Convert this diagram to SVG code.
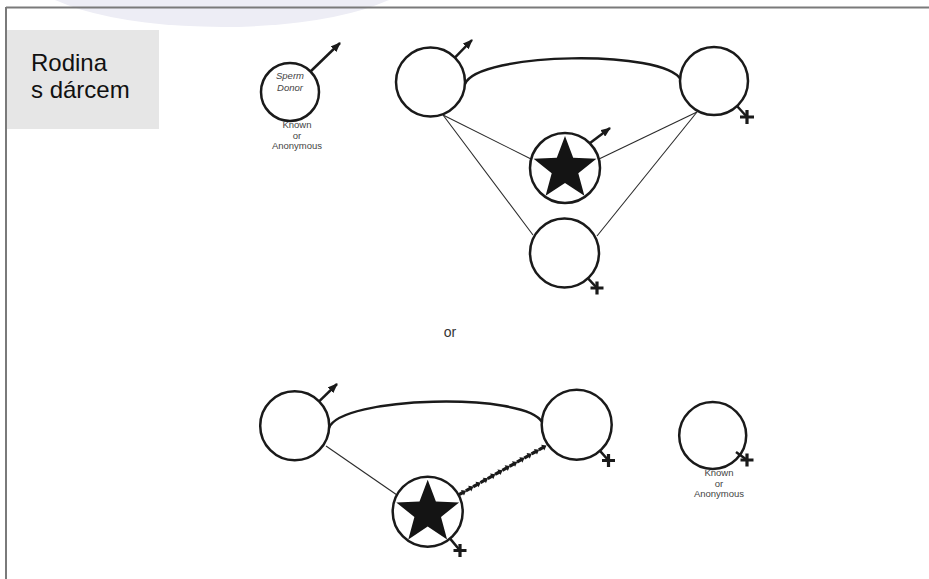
<svg xmlns="http://www.w3.org/2000/svg" width="929" height="579" viewBox="0 0 929 579">
<style>
.node{fill:#fff;stroke:#1a1a1a;stroke-width:2.5}
.sym{stroke:#1a1a1a;stroke-width:2.5;fill:none}
.cross{stroke:#1a1a1a;stroke-width:3.2;fill:none}
.thin{stroke:#2a2a2a;stroke-width:1.1;fill:none}
.arc{stroke:#1a1a1a;stroke-width:2.5;fill:none}
.star{fill:#141414}
.small{font-family:"Liberation Sans",Arial,sans-serif;font-size:9.5px;fill:#444;text-anchor:middle}
.title{font-family:"Liberation Sans",Arial,sans-serif;font-size:24px;fill:#111}
</style>
<defs>
<marker id="ah" viewBox="0 0 10 8" refX="9" refY="4" markerWidth="10" markerHeight="8" markerUnits="userSpaceOnUse" orient="auto">
<path d="M0,0 L10,4 L0,8 z" fill="#1a1a1a"/>
</marker>
<marker id="chev" viewBox="-5 -4 10 8" refX="0" refY="0" markerWidth="10" markerHeight="8" markerUnits="userSpaceOnUse" orient="auto">
<path d="M-4,-1.6 L0.5,-1.6 L0.5,-3.2 L4.8,0 L0.5,3.2 L0.5,1.6 L-4,1.6 z" fill="#1a1a1a"/>
</marker>
<path id="starShape" d="M0,-33 L8.2,-11.3 L31.4,-10.2 L13.3,4.3 L19.4,26.7 L0,13.9 L-19.4,26.7 L-13.3,4.3 L-31.4,-10.2 L-8.2,-11.3 z"/>
</defs>
<rect width="929" height="579" fill="#fff"/>
<ellipse cx="222" cy="-33" rx="200" ry="60" fill="#ededf5"/>
<g id="frame" stroke="#7a7a7a" stroke-width="2" fill="none">
<line x1="6" y1="7.5" x2="929" y2="7.5"/>
<line x1="6" y1="7" x2="6" y2="579"/>
</g>
<g id="label">
<rect x="7" y="30" width="152" height="99" fill="#e6e6e6"/>
<text class="title"><tspan x="31" y="71">Rodina</tspan><tspan x="31" y="98">s dárcem</tspan></text>
</g>
<g id="connectors">
<path class="arc" d="M465,84 C478,52 665,49 681,80"/>
<line class="thin" x1="443" y1="115" x2="531" y2="159"/>
<line class="thin" x1="443" y1="115" x2="533" y2="235"/>
<line class="thin" x1="697" y1="112" x2="599" y2="159"/>
<line class="thin" x1="697" y1="112" x2="597" y2="236"/>
<path class="arc" d="M329,428 C340,396 525,392 542,422"/>
<line class="thin" x1="326" y1="446" x2="397" y2="495"/>
<polyline fill="none" stroke="none" marker-start="url(#chev)" marker-mid="url(#chev)" marker-end="url(#chev)" points="462,493 469.3,488.9 476.6,484.8 483.9,480.7 491.2,476.6 498.5,472.5 505.8,468.4 513.1,464.3 520.4,460.2 527.7,456.1 535,452 542.3,447.9"/>
</g>
<g id="donor">
<circle class="node" cx="290" cy="92" r="29"/>
<line class="sym" x1="310.5" y1="71.5" x2="340" y2="43" marker-end="url(#ah)"/>
<text class="small" font-style="italic" fill="#333"><tspan x="290" y="79">Sperm</tspan><tspan x="290" y="91">Donor</tspan></text>
<text class="small"><tspan x="297" y="128">Known</tspan><tspan x="297" y="138.6">or</tspan><tspan x="297" y="149.2">Anonymous</tspan></text>
</g>
<g id="father1">
<circle class="node" cx="430.5" cy="82" r="34.5"/>
<line class="sym" x1="454.9" y1="57.6" x2="472" y2="40" marker-end="url(#ah)"/>
</g>
<g id="mother1">
<circle class="node" cx="714" cy="81" r="34"/>
<line class="sym" x1="737" y1="106" x2="747" y2="117"/>
<path class="cross" d="M740,117 h14 M747,110 v14"/>
</g>
<g id="child1">
<circle class="node" cx="565" cy="168" r="35"/>
<use href="#starShape" class="star" x="565" y="169"/>
<line class="sym" x1="589.7" y1="143.3" x2="610" y2="128" marker-end="url(#ah)"/>
</g>
<g id="child2">
<circle class="node" cx="564.5" cy="253" r="34.5"/>
<line class="sym" x1="588" y1="278.3" x2="597" y2="288"/>
<path class="cross" d="M590.5,288 h13 M597,281.5 v13"/>
</g>
<g id="or">
<text x="450" y="337" font-family="Liberation Sans, Arial, sans-serif" font-size="14" fill="#333" text-anchor="middle">or</text>
</g>
<g id="father2">
<circle class="node" cx="294.7" cy="425.8" r="34.5"/>
<line class="sym" x1="319.1" y1="401.4" x2="337" y2="384" marker-end="url(#ah)"/>
</g>
<g id="mother2">
<circle class="node" cx="576.7" cy="424.7" r="35"/>
<line class="sym" x1="600" y1="450.9" x2="608.5" y2="460.5"/>
<path class="cross" d="M602,460.5 h13 M608.5,454 v13"/>
</g>
<g id="child3">
<circle class="node" cx="427.7" cy="511.7" r="35"/>
<use href="#starShape" class="star" x="427.7" y="512.7"/>
<line class="sym" x1="450.1" y1="538.6" x2="460" y2="550.5"/>
<path class="cross" d="M453.5,550.5 h13 M460,544 v13"/>
</g>
<g id="donor2">
<circle class="node" cx="712.7" cy="435.5" r="33.5"/>
<line class="sym" x1="736" y1="452" x2="747" y2="460"/>
<path class="cross" d="M740.5,460 h13 M747,453.5 v13"/>
<text class="small"><tspan x="719" y="476">Known</tspan><tspan x="719" y="486.6">or</tspan><tspan x="719" y="497.2">Anonymous</tspan></text>
</g>
</svg>
